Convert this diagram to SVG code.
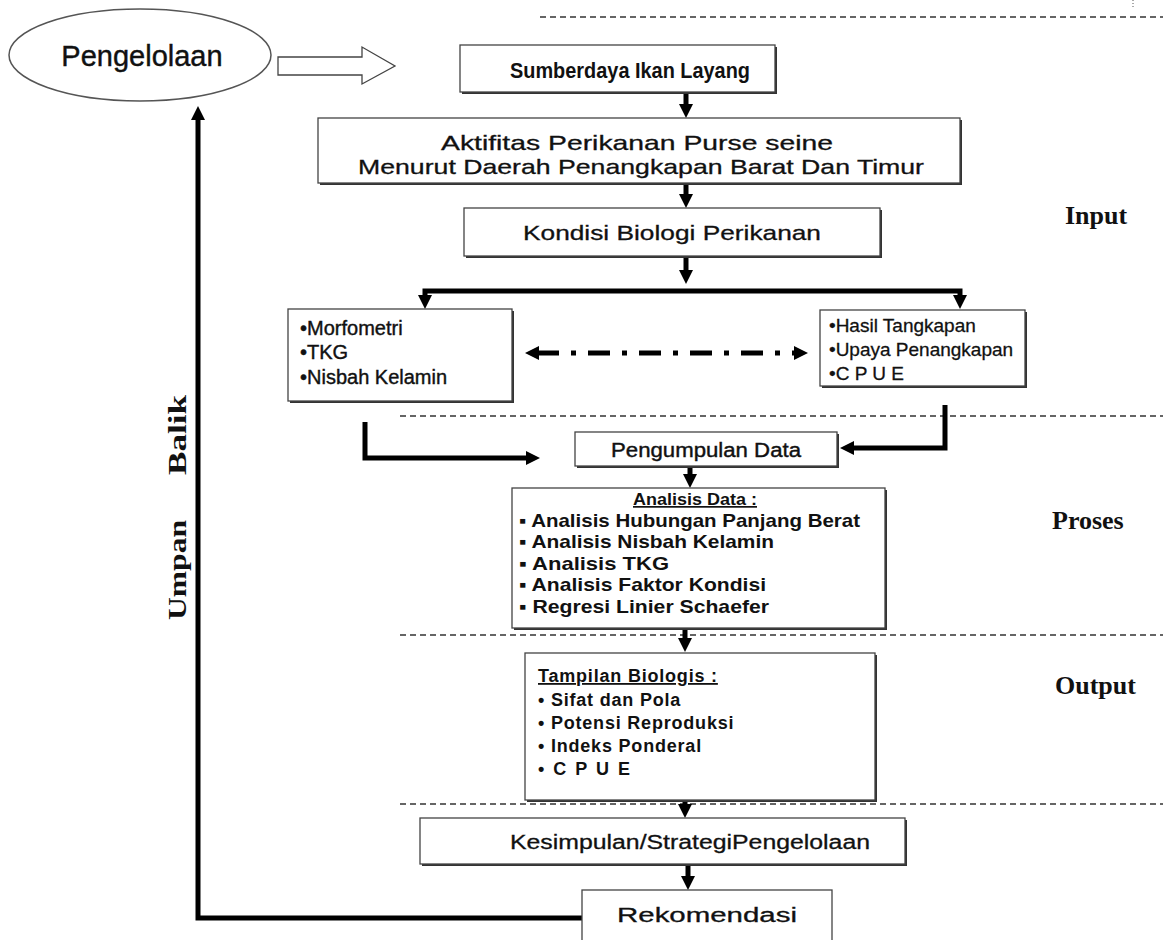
<svg xmlns="http://www.w3.org/2000/svg" width="1163" height="940" viewBox="0 0 1163 940">
<style>
.box{fill:#fff;stroke:#444;stroke-width:1.3}
.sh{fill:#333}
.t{font-family:"Liberation Sans",Arial,sans-serif;fill:#111}
.c{text-anchor:middle}
.b{font-weight:bold}
.dash{stroke:#333;stroke-width:1.3;stroke-dasharray:6 4;fill:none}
.conn{stroke:#000;stroke-width:5;fill:none}
.lbl{font-family:"Liberation Serif","Times New Roman",serif;font-weight:bold;font-size:26px;fill:#111}
</style>
<defs>
<marker id="ah" markerUnits="userSpaceOnUse" markerWidth="14" markerHeight="14" refX="2" refY="7" orient="auto-start-reverse"><path d="M0,0 L14,7 L0,14 z" fill="#000"/></marker>
</defs>
<rect width="1163" height="940" fill="#fff"/>

<g id="dividers">
<line class="dash" x1="540" y1="17" x2="1163" y2="17"/>
<line x1="1133" y1="0" x2="1133" y2="9" stroke="#555" stroke-width="1" stroke-dasharray="1 2"/>
<line class="dash" x1="400" y1="416" x2="1163" y2="416"/>
<line class="dash" x1="400" y1="635" x2="1163" y2="635"/>
<line class="dash" x1="400" y1="804" x2="1163" y2="804"/>
</g>

<g id="connectors">
<polygon points="278,57 362,57 362,47 395,66 362,84 362,75 278,75" fill="#fff" stroke="#444" stroke-width="1.3"/>
<line class="conn" x1="686" y1="92" x2="686" y2="106" marker-end="url(#ah)"/>
<line class="conn" x1="686" y1="183" x2="686" y2="196" marker-end="url(#ah)"/>
<line class="conn" x1="686" y1="256" x2="686" y2="272" marker-end="url(#ah)"/>
<path class="conn" d="M686,291 L425,291 L425,297" marker-end="url(#ah)"/>
<path class="conn" d="M686,291 L960,291 L960,297" marker-end="url(#ah)"/>
<line class="conn" x1="537" y1="353" x2="796" y2="353" stroke-dasharray="22 12 5 12" marker-start="url(#ah)" marker-end="url(#ah)"/>
<path class="conn" d="M365,422 L365,458 L528,458" marker-end="url(#ah)"/>
<path class="conn" d="M945,405 L945,448 L852,448" marker-end="url(#ah)"/>
<line class="conn" x1="690" y1="466" x2="690" y2="476" marker-end="url(#ah)"/>
<line class="conn" x1="685" y1="628" x2="685" y2="640" marker-end="url(#ah)"/>
<line class="conn" x1="685" y1="800" x2="685" y2="806" marker-end="url(#ah)"/>
<line class="conn" x1="688" y1="865" x2="688" y2="878" stroke-width="3" marker-end="url(#ah)"/>
<path class="conn" d="M582,918 L198,918 L198,118" marker-end="url(#ah)"/>
</g>

<g id="pengelolaan">
<ellipse cx="140" cy="55" rx="131" ry="46" fill="#fff" stroke="#555" stroke-width="1.5"/>
<text class="t c" x="142" y="66" font-size="29" stroke="#111" stroke-width="0.4">Pengelolaan</text>
</g>

<g id="sumberdaya">
<rect class="sh" x="462" y="47" width="315" height="47"/>
<rect class="box" x="460" y="45" width="315" height="47"/>
<text class="t c b" x="630" y="78" font-size="22" textLength="240" lengthAdjust="spacingAndGlyphs">Sumberdaya Ikan Layang</text>
</g>

<g id="aktifitas">
<rect class="sh" x="320" y="120" width="642" height="65"/>
<rect class="box" x="318" y="118" width="642" height="65"/>
<text class="t c" x="637" y="150" font-size="21" textLength="392" lengthAdjust="spacingAndGlyphs" stroke="#111" stroke-width="0.3">Aktifitas Perikanan Purse seine</text>
<text class="t c" x="641" y="174" font-size="21" textLength="566" lengthAdjust="spacingAndGlyphs" stroke="#111" stroke-width="0.3">Menurut Daerah Penangkapan Barat Dan Timur</text>
</g>

<g id="kondisi">
<rect class="sh" x="466" y="210" width="416" height="48"/>
<rect class="box" x="464" y="208" width="416" height="48"/>
<text class="t c" x="672" y="240" font-size="21" textLength="298" lengthAdjust="spacingAndGlyphs" stroke="#111" stroke-width="0.3">Kondisi Biologi Perikanan</text>
</g>

<g id="biologi">
<rect class="sh" x="290" y="311" width="224" height="92"/>
<rect class="box" x="288" y="309" width="224" height="92"/>
<text class="t" x="300" y="335" font-size="20" stroke="#111" stroke-width="0.4">•Morfometri</text>
<text class="t" x="300" y="359" font-size="20" stroke="#111" stroke-width="0.4">•TKG</text>
<text class="t" x="300" y="384" font-size="20" stroke="#111" stroke-width="0.4">•Nisbah Kelamin</text>
</g>

<g id="hasil">
<rect class="sh" x="822" y="312" width="205" height="76"/>
<rect class="box" x="820" y="310" width="205" height="76"/>
<text class="t" x="829" y="332" font-size="19" stroke="#111" stroke-width="0.3">•Hasil Tangkapan</text>
<text class="t" x="829" y="356" font-size="19" stroke="#111" stroke-width="0.3">•Upaya Penangkapan</text>
<text class="t" x="829" y="380" font-size="19" stroke="#111" stroke-width="0.3">•C P U E</text>
</g>

<g id="pengumpulan">
<rect class="sh" x="577" y="434" width="262" height="34"/>
<rect class="box" x="575" y="432" width="262" height="34"/>
<text class="t c" x="706" y="457" font-size="20" textLength="190" lengthAdjust="spacingAndGlyphs" stroke="#111" stroke-width="0.4">Pengumpulan Data</text>
</g>

<g id="analisis">
<rect class="sh" x="514" y="490" width="373" height="140"/>
<rect class="box" x="512" y="488" width="373" height="140"/>
<text class="t b c" x="695" y="505" font-size="17" textLength="124" lengthAdjust="spacingAndGlyphs" text-decoration="underline">Analisis Data :</text>
<text class="t b" x="519" y="527" font-size="19" textLength="341" lengthAdjust="spacingAndGlyphs">▪ Analisis Hubungan Panjang Berat</text>
<text class="t b" x="519" y="548" font-size="19" textLength="255" lengthAdjust="spacingAndGlyphs">▪ Analisis Nisbah Kelamin</text>
<text class="t b" x="519" y="570" font-size="19" textLength="150" lengthAdjust="spacingAndGlyphs">▪ Analisis TKG</text>
<text class="t b" x="519" y="591" font-size="19" textLength="247" lengthAdjust="spacingAndGlyphs">▪ Analisis Faktor Kondisi</text>
<text class="t b" x="519" y="613" font-size="19" textLength="250" lengthAdjust="spacingAndGlyphs">▪ Regresi Linier Schaefer</text>
</g>

<g id="tampilan">
<rect class="sh" x="527" y="655" width="350" height="147"/>
<rect class="box" x="525" y="653" width="350" height="147"/>
<text class="t b" x="538" y="682" font-size="18" letter-spacing="0.8" text-decoration="underline">Tampilan Biologis :</text>
<text class="t b" x="538" y="706" font-size="18" letter-spacing="0.8">• Sifat dan Pola</text>
<text class="t b" x="538" y="729" font-size="18" letter-spacing="0.8">• Potensi Reproduksi</text>
<text class="t b" x="538" y="752" font-size="18" letter-spacing="0.8">• Indeks Ponderal</text>
<text class="t b" x="538" y="775" font-size="18" letter-spacing="2">• C P U E</text>
</g>

<g id="kesimpulan">
<rect class="sh" x="422" y="820" width="485" height="46"/>
<rect class="box" x="420" y="818" width="485" height="46"/>
<text class="t c" x="690" y="849" font-size="20" textLength="360" lengthAdjust="spacingAndGlyphs" stroke="#111" stroke-width="0.3">Kesimpulan/StrategiPengelolaan</text>
</g>

<g id="rekomendasi">
<rect class="box" x="582" y="890" width="250" height="60"/>
<text class="t c" x="707" y="922" font-size="20" textLength="180" lengthAdjust="spacingAndGlyphs" stroke="#111" stroke-width="0.3">Rekomendasi</text>
</g>

<g id="labels">
<text class="lbl" x="1065" y="224">Input</text>
<text class="lbl" x="1052" y="529">Proses</text>
<text class="lbl" x="1055" y="694">Output</text>
<text class="lbl" transform="translate(186,620) rotate(-90)" font-size="25"><tspan x="0" y="0" textLength="100" lengthAdjust="spacingAndGlyphs">Umpan</tspan><tspan x="145" y="0" textLength="80" lengthAdjust="spacingAndGlyphs">Balik</tspan></text>
</g>
</svg>
